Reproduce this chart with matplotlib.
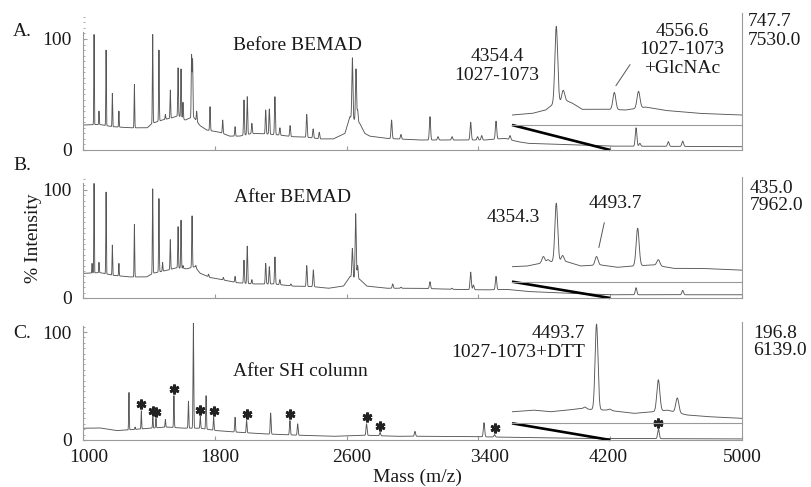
import numpy as np
import matplotlib.pyplot as plt
from matplotlib.ticker import MultipleLocator
from matplotlib.transforms import ScaledTranslation

plt.rcParams["font.family"] = ["Liberation Serif", "DejaVu Serif"]

# ---- panel A: before BEMAD (main spectrum, % intensity) ----
a_base_mz = [1000, 1100, 1180, 1290, 1390, 1420, 1480, 1540, 1580, 1620, 1670, 1710, 1750,
             1830, 1890, 1950, 2030, 2110, 2190, 2270, 2360, 2440, 2520, 2590, 2620, 2680,
             2710, 2740, 2840, 3040, 3240, 3440, 3560, 3640, 3700, 4000, 4200, 5000]
a_base_int = [22.5, 23, 21, 20, 20, 24, 27, 29, 31, 27, 30, 22, 18,
              16, 12.5, 12.5, 15, 14.5, 13.5, 12, 11.5, 10, 10, 15, 30, 24,
              15, 12.5, 10.5, 9, 9, 9, 10.5, 7.5, 6, 4.5, 3.5, 3]
a_peak_mz = [1067, 1097, 1140, 1178, 1218, 1312, 1423, 1461, 1500, 1530, 1577, 1595, 1607,
             1659, 1665, 1690, 1771, 1848, 1923, 1977, 1997, 2025, 2109, 2131, 2165, 2195,
             2257, 2358, 2397, 2434, 2635, 2657, 2667, 2873, 2930, 3106, 3155, 3240, 3353,
             3395, 3420, 3507, 3592, 4357, 4380, 4553, 4640]
a_peak_top = [104, 35, 90, 51, 35, 59, 104, 90, 32, 54, 74, 73, 43,
              85, 81, 35, 39, 27, 21, 45, 48, 24, 36, 37, 48, 20,
              22, 32, 19, 16, 83, 73, 36, 27, 14, 30, 12, 12, 25,
              12, 13, 26, 13, 20, 6, 7.5, 8]
# inset A (4200-5000, relative scale)
ia_base_mz = [4200, 4271, 4317, 4340, 4386, 4409, 4444, 4502, 4537, 4595, 4665, 4734, 4850, 5000]
ia_base_int = [8.9, 10.4, 13.4, 17.9, 22, 19.6, 14, 14, 14, 13.4, 16, 13, 10.4, 8.9]
ia_peak_mz = [4354, 4378, 4556, 4640]
ia_peak_top = [88, 31, 29, 30]

# ---- panel B: after BEMAD ----
b_base_mz = [1000, 1103, 1184, 1285, 1386, 1427, 1508, 1569, 1629, 1680, 1710, 1771, 1852,
             1933, 2034, 2155, 2277, 2398, 2489, 2581, 2621, 2682, 2723, 2844, 3046, 3248,
             3450, 3572, 3700, 4000, 4200, 5000]
b_base_int = [22.8, 23.5, 21, 19.5, 19.5, 23, 25.6, 28, 27, 29, 23, 19, 16.7,
              14.2, 13, 13, 11, 10.5, 9, 11, 20, 17, 11, 9, 9, 8,
              7.5, 8, 6, 4, 3, 3]
b_peak_mz = [1055, 1067, 1097, 1140, 1178, 1218, 1312, 1423, 1461, 1483, 1530, 1577, 1595,
             1607, 1662, 1685, 1762, 1852, 1923, 1977, 1997, 2025, 2109, 2131, 2165, 2195,
             2262, 2358, 2398, 2635, 2655, 2667, 2880, 2930, 3106, 3240, 3353, 3370, 3507,
             4357, 4640]
b_peak_top = [32, 106, 33, 98, 49, 32, 68, 101, 92, 33, 54, 66, 72,
              30, 76, 30, 22, 19, 20, 35, 48, 17, 32, 29, 38, 17,
              13, 30, 26, 46, 78, 30, 13, 10, 15, 9, 24, 12, 20,
              9.5, 7]
ib_base_mz = [4200, 4252, 4299, 4334, 4392, 4438, 4508, 4566, 4624, 4693, 4763, 4856, 5000]
ib_base_int = [14.3, 14.9, 17.5, 19, 19, 15, 16, 13.7, 15, 16, 12.7, 12.7, 11]
ib_peak_mz = [4309, 4325, 4354, 4376, 4494, 4637, 4709]
ib_peak_top = [24, 21, 75, 25, 24, 51, 21]

# ---- panel C: after SH column ----
c_base_mz = [1000, 1102, 1203, 1305, 1406, 1507, 1608, 1710, 1811, 1912, 2013, 2114, 2316,
             2518, 2720, 2902, 3000, 3400, 3600, 4000, 5000]
c_base_int = [10.9, 11.2, 8.7, 9.7, 10.9, 12, 11, 10.9, 8.7, 7.5, 6.5, 5.6, 4.4,
              3.4, 4.4, 3.4, 3.5, 3, 2.5, 1.5, 1]
c_peak_mz = [1279, 1316, 1354, 1424, 1443, 1500, 1552, 1640, 1670, 1712, 1747, 1793, 1923,
             1993, 2139, 2256, 2303, 2721, 2803, 3015, 3434, 3498, 4493]
c_peak_top = [44, 12, 27, 21, 20, 19, 41, 36, 108, 22, 41, 21, 21,
              18, 25, 18, 15, 15, 7, 8, 16, 5, 10]
c_star_mz = [1354, 1424, 1443, 1552, 1712, 1793, 1993, 2256, 2721, 2803, 3498, 4493]
ic_base_mz = [4200, 4275, 4333, 4392, 4438, 4473, 4531, 4624, 4693, 4740, 4809, 4879, 5000]
ic_base_int = [11.4, 13, 11.4, 13, 14.7, 13.7, 13, 9.8, 11.4, 13, 8.2, 6.6, 4.9]
ic_peak_mz = [4454, 4494, 4540, 4709, 4775]
ic_peak_top = [16, 98, 14, 43, 25]

mass_ticks = [1000, 1800, 2600, 3400, 4200, 5000]
# horizontal nudge (px) of each mass label as printed in the original
mass_label_shift = [6, 5, 5, 11, -2, 0]

W, H = 811, 487
LINE = "#575757"
AXC = "#9a9a9a"
TXT = "#1a1a1a"
FS = 14


def spectrum(grid, base_mz, base_int, peak_mz, peak_top):
    y = np.interp(grid, base_mz, base_int)
    for m, top in zip(peak_mz, peak_top):
        amp = top - np.interp(m, base_mz, base_int)
        sigma = 0.5 + 0.001 * m
        y = y + amp * np.exp(-0.5 * ((grid - m) / sigma) ** 2)
    return y


def px(x, y):
    return x / W, 1 - y / H


def panel(fig, top, bottom, ytop, main, inset, inset_y0):
    l, b = px(83, bottom)
    r, t = px(742, top)
    ax = fig.add_axes([l, b, r - l, t - b])
    grid = np.arange(1000, 5000.5, 0.5)
    y = spectrum(grid, *main)
    ax.plot(grid, y, color=LINE, lw=0.65)
    ax.set_xlim(1000, 5000)
    ax.set_ylim(0, ytop)
    ax.spines["top"].set_visible(False)
    for s in ("left", "right", "bottom"):
        ax.spines[s].set_color(AXC)
        ax.spines[s].set_linewidth(0.8)
    ax.spines["left"].set_bounds(0, 106)
    ax.set_yticks([0, 100])
    ax.yaxis.set_minor_locator(MultipleLocator(5))
    ax.tick_params(axis="y", which="major", direction="in", length=3, color=AXC,
                   labelsize=FS, labelcolor=TXT, pad=8)
    ax.tick_params(axis="y", which="minor", direction="in", length=1.5, color=AXC)
    ax.set_xticks(mass_ticks)
    ax.tick_params(axis="x", direction="in", length=3, color=AXC,
                   labelsize=FS, labelcolor=TXT, pad=6.5)

    # zoomed inset of the 4200-5000 region
    x0 = 0.651
    ins = ax.inset_axes([x0, inset_y0, 1 - x0, 1 - inset_y0])
    igrid = np.arange(4200, 5000.5, 0.5)
    ins.plot(igrid, spectrum(igrid, *inset), color=LINE, lw=0.65)
    ins.set_xlim(4200, 5000)
    ins.set_ylim(0, 100)
    ins.patch.set_visible(False)
    for s in ("left", "right", "top"):
        ins.spines[s].set_visible(False)
    ins.spines["bottom"].set_color(AXC)
    ins.spines["bottom"].set_linewidth(0.8)
    ins.set_xticks([])
    ins.set_yticks([])
    # connector from the inset to the zoomed region
    ax.plot([1000 + x0 * 4000, 4200], [inset_y0 * ytop, 0], color="black", lw=1.9,
            solid_capstyle="butt", clip_on=False)
    return ax, ins, grid, y


fig = plt.figure(figsize=(W / 100, H / 100), dpi=100)

# Panel A
axA, insA, _, _ = panel(fig, 13, 150, 123.4,
                        (a_base_mz, a_base_int, a_peak_mz, a_peak_top),
                        (ia_base_mz, ia_base_int, ia_peak_mz, ia_peak_top), 0.1825)
axA.set_xticklabels([])
insA.annotate("", xy=(4556, 33), xytext=(4616, 56),
              arrowprops=dict(arrowstyle="-", color="#555555", lw=0.7))

# Panel B
axB, insB, _, _ = panel(fig, 177, 298, 112,
                        (b_base_mz, b_base_int, b_peak_mz, b_peak_top),
                        (ib_base_mz, ib_base_int, ib_peak_mz, ib_peak_top), 0.135)
axB.set_xticklabels([])
insB.annotate("", xy=(4500, 30), xytext=(4523, 59),
              arrowprops=dict(arrowstyle="-", color="#555555", lw=0.7))

# Panel C
axC, insC, gridC, yC = panel(fig, 322, 440, 109.3,
                             (c_base_mz, c_base_int, c_peak_mz, c_peak_top),
                             (ic_base_mz, ic_base_int, ic_peak_mz, ic_peak_top), 0.1415)
axC.set_xticklabels([str(t) for t in mass_ticks])
for lab, dx in zip(axC.get_xticklabels(), mass_label_shift):
    lab.set_transform(lab.get_transform() + ScaledTranslation(dx / 100, 0, fig.dpi_scale_trans))
for m in c_star_mz:
    win = (gridC > m - 6) & (gridC < m + 6)
    axC.plot(m, yC[win].max() + 6, marker=(6, 2, 0), ms=7, mew=2.0,
             color="#222222", clip_on=False)

# texts
def label(x, y, s, **kw):
    kw.setdefault("ha", "center")
    kw.setdefault("va", "center")
    fig.text(*px(x, y), s, fontsize=FS, color=TXT, **kw)


label(22, 32, "A.")
label(22, 165, "B.")
label(22, 333, "C.")
label(297, 45, "Before BEMAD")
label(292, 198, "After BEMAD")
label(300, 372, "After SH column")
label(33, 238, "% Intensity", rotation=90)
label(417, 477, "Mass (m/z)")

label(497, 66, "4354.4\n1027-1073", linespacing=1.1)
label(682, 50, "4556.6\n1027-1073\n+GlcNAc", linespacing=1.15)
label(513, 218, "4354.3")
label(615, 203, "4493.7")
label(585, 343, "4493.7\n1027-1073+DTT", ha="right", multialignment="right",
      linespacing=1.1)

label(748, 31, "747.7\n7530.0", ha="left", multialignment="left", linespacing=1.1)
label(750, 197, "435.0\n7962.0", ha="left", multialignment="left", linespacing=1.0)
label(753, 342, "196.8\n6139.0", ha="left", multialignment="left", linespacing=1.0)

fig.savefig("out.png", dpi=100)
